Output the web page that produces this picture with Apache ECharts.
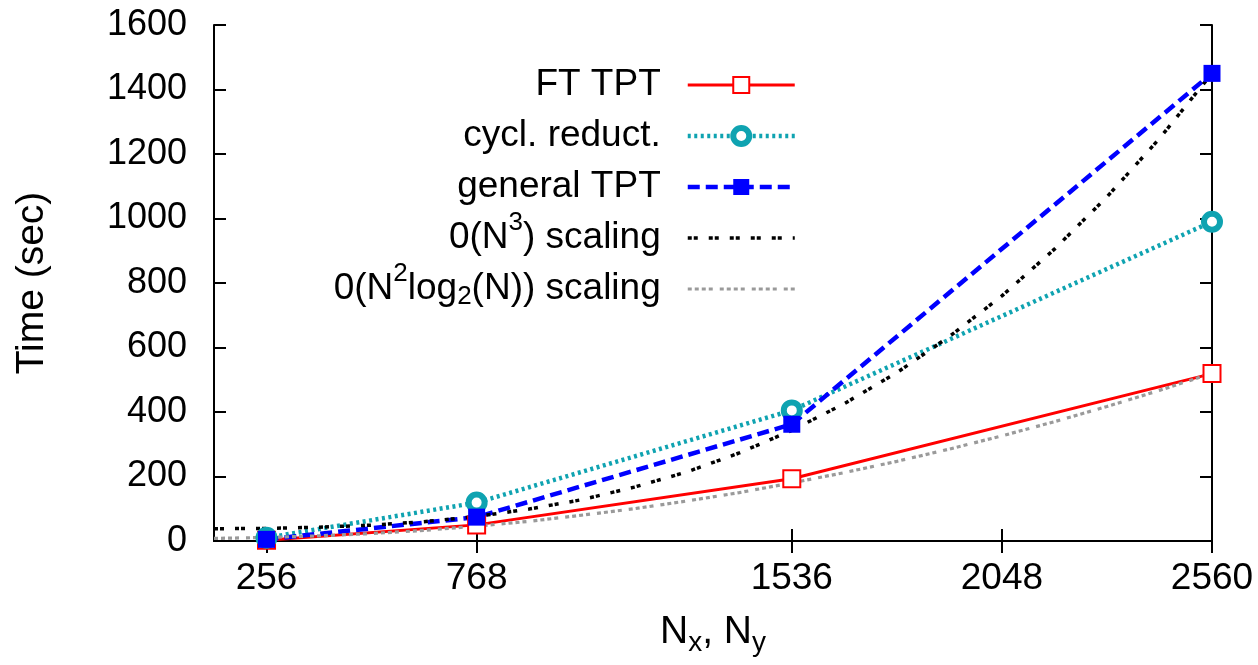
<!DOCTYPE html>
<html>
<head>
<meta charset="utf-8">
<script src="https://cdn.jsdelivr.net/npm/echarts@6/dist/echarts.min.js"></script>
<style>
html, body { margin: 0; padding: 0; background: #fff; }
#chart { width: 1258px; height: 665px; }
</style>
</head>
<body>
<div id="chart"></div>
<script>
// grid size N (Nx = Ny) and run time in seconds
var sizes = [256, 768, 1536, 2560];
var ftTpt = [2, 50, 193, 519];
var cyclReduct = [10, 119, 405, 990];
var generalTpt = [5, 74, 362, 1450];

// reference scaling curves
var scaleN = [128, 256, 384, 512, 640, 768, 896, 1024, 1152, 1280, 1408, 1536, 1664, 1792, 1920, 2048, 2176, 2304, 2432, 2560];
var scaleN3 = [38, 39, 43, 49, 60, 76, 99, 128, 167, 214, 273, 343, 426, 522, 634, 760, 905, 1067, 1248, 1450];
var scaleN2log = [8, 11, 16, 23, 33, 46, 61, 80, 100, 124, 150, 180, 212, 247, 285, 326, 370, 417, 467, 520];

var xTicks = [256, 768, 1536, 2048, 2560];
var seriesNames = ['FT TPT', 'cycl. reduct.', 'general TPT', '0(N3) scaling', '0(N2log2(N)) scaling'];

var FONT = 'Liberation Sans';

function pairs(xs, ys) {
	return xs.map(function (x, i) { return [x, ys[i]]; });
}

var legendText = {
	'FT TPT': 'FT TPT',
	'cycl. reduct.': 'cycl. reduct.',
	'general TPT': 'general TPT',
	'0(N3) scaling': '0(N{sup|3}) scaling',
	'0(N2log2(N)) scaling': '0(N{sup|2}log{sub|2}(N)) scaling'
};

var myChart = echarts.init(document.getElementById('chart'), null, { renderer: 'canvas' });

var axisLine = { show: true, lineStyle: { color: '#000', width: 2 } };
var tick = { show: true, inside: true, length: 12, lineStyle: { color: '#000', width: 2 } };
var plain = function (v) { return String(v); }; // no thousands separator

var option = {
	animation: false,
	backgroundColor: '#fff',
	textStyle: { fontFamily: FONT },
	grid: {
		left: 214,
		right: 46,
		top: 25,
		bottom: 124,
		outerBoundsMode: 'none'
	},
	legend: {
		orient: 'vertical',
		align: 'right',
		right: 461,
		top: 57,
		padding: 0,
		itemGap: -5,
		itemWidth: 107,
		itemHeight: 20,
		selectedMode: false,
		data: [
			{ name: seriesNames[0] },
			{ name: seriesNames[1] },
			{ name: seriesNames[2] },
			{ name: seriesNames[3], itemStyle: { opacity: 0 } },
			{ name: seriesNames[4], itemStyle: { opacity: 0 } }
		],
		itemStyle: { borderWidth: 'inherit' },
		lineStyle: { width: 'inherit' },
		formatter: function (name) { return legendText[name]; },
		textStyle: {
			fontFamily: FONT,
			fontSize: 37,
			color: '#000',
			lineHeight: 56,
			padding: [0, 22, 0, 0],
			rich: {
				sup: { fontFamily: FONT, fontSize: 26, lineHeight: 26, color: '#000', padding: [0, 0, 30, 0] },
				sub: { fontFamily: FONT, fontSize: 26, lineHeight: 26, color: '#000', padding: [16, 0, 0, 0] }
			}
		}
	},
	xAxis: [
		{
			type: 'value',
			min: 128,
			max: 2560,
			name: 'N{sub|x}, N{sub|y}',
			nameLocation: 'middle',
			nameGap: 72,
			nameTextStyle: {
				fontFamily: FONT,
				fontSize: 39,
				color: '#000',
				rich: {
					sub: { fontFamily: FONT, fontSize: 28, lineHeight: 28, color: '#000', padding: [22, 0, 0, 0] }
				}
			},
			axisLine: axisLine,
			axisTick: Object.assign({ customValues: xTicks }, tick),
			axisLabel: {
				customValues: xTicks,
				formatter: plain,
				margin: 19,
				fontFamily: FONT,
				fontSize: 37,
				color: '#000'
			},
			splitLine: { show: false }
		},
		{
			type: 'value',
			position: 'top',
			min: 128,
			max: 2560,
			axisLine: axisLine,
			axisTick: Object.assign({ customValues: xTicks }, tick),
			axisLabel: { show: false, customValues: xTicks },
			splitLine: { show: false }
		}
	],
	yAxis: [
		{
			type: 'value',
			min: 0,
			max: 1600,
			interval: 200,
			name: 'Time (sec)',
			nameLocation: 'middle',
			nameGap: 162,
			nameTextStyle: { fontFamily: FONT, fontSize: 39, color: '#000' },
			axisLine: axisLine,
			axisTick: tick,
			axisLabel: { margin: 27, formatter: plain, fontFamily: FONT, fontSize: 36, color: '#000' },
			splitLine: { show: false }
		},
		{
			type: 'value',
			position: 'right',
			min: 0,
			max: 1600,
			interval: 200,
			axisLine: axisLine,
			axisTick: tick,
			axisLabel: { show: false },
			splitLine: { show: false }
		}
	],
	series: [
		{
			name: seriesNames[0],
			type: 'line',
			data: pairs(sizes, ftTpt),
			symbol: 'emptyRect',
			symbolSize: 17,
			itemStyle: { color: '#ff0000', borderColor: '#ff0000', borderWidth: 2.5 },
			lineStyle: { color: '#ff0000', width: 3, type: 'solid' }
		},
		{
			name: seriesNames[1],
			type: 'line',
			data: pairs(sizes, cyclReduct),
			symbol: 'circle',
			symbolSize: 16,
			itemStyle: { color: '#ffffff', borderColor: '#0fa3b1', borderWidth: 6 },
			lineStyle: { color: '#0fa3b1', width: 4.5, type: [3, 3.5] }
		},
		{
			name: seriesNames[2],
			type: 'line',
			data: pairs(sizes, generalTpt),
			symbol: 'rect',
			symbolSize: 17,
			itemStyle: { color: '#0000ff', borderWidth: 0 },
			lineStyle: { color: '#0000ff', width: 4.5, type: [12, 6] }
		},
		{
			name: seriesNames[3],
			type: 'line',
			data: pairs(scaleN, scaleN3),
			symbol: 'none',
			itemStyle: { color: '#000000' },
			lineStyle: { color: '#000000', width: 3.5, type: [4, 2, 4, 11] }
		},
		{
			name: seriesNames[4],
			type: 'line',
			data: pairs(scaleN, scaleN2log),
			symbol: 'none',
			itemStyle: { color: '#9a9a9a' },
			lineStyle: { color: '#9a9a9a', width: 3.2, type: [4, 3, 4, 3, 4, 3, 4, 7] }
		}
	]
};

myChart.setOption(option);
</script>
</body>
</html>
